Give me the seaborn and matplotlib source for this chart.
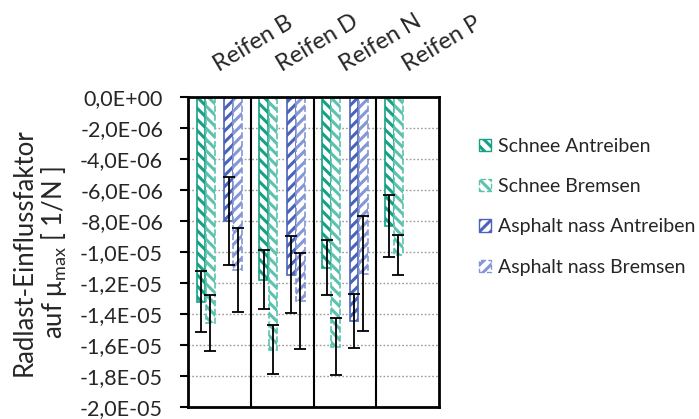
import numpy as np
import pandas as pd
import matplotlib
matplotlib.use("Agg")
import matplotlib.pyplot as plt
import seaborn as sns
from matplotlib.patches import Patch
from matplotlib.ticker import FuncFormatter, FixedLocator

# --- data -------------------------------------------------------------
tyres = ["Reifen B", "Reifen D", "Reifen N", "Reifen P"]
series = ["Schnee Antreiben", "Schnee Bremsen",
          "Asphalt nass Antreiben", "Asphalt nass Bremsen"]

schnee_antreiben = [-13.2e-6, -11.8e-6, -11.0e-6, -8.35e-6]
schnee_bremsen = [-14.6e-6, -16.3e-6, -16.1e-6, -10.2e-6]
asphalt_antreiben = [-8.0e-6, -11.45e-6, -14.45e-6, np.nan]
asphalt_bremsen = [-11.15e-6, -13.15e-6, -11.4e-6, np.nan]

err_schnee_antreiben = [1.95e-6, 1.9e-6, 1.8e-6, 2.0e-6]
err_schnee_bremsen = [1.8e-6, 1.6e-6, 1.85e-6, 1.27e-6]
err_asphalt_antreiben = [2.85e-6, 2.5e-6, 1.73e-6, np.nan]
err_asphalt_bremsen = [2.7e-6, 3.1e-6, 3.7e-6, np.nan]

y_ticks = np.arange(0, -2.01e-5, -2e-6)

# --- long table for seaborn (empty slot keeps the two groups apart) ---
gap_label = " "
hue_order = [series[0], series[1], gap_label, series[2], series[3]]
values = {series[0]: schnee_antreiben, series[1]: schnee_bremsen,
          series[2]: asphalt_antreiben, series[3]: asphalt_bremsen,
          gap_label: [np.nan] * len(tyres)}
errors = {series[0]: err_schnee_antreiben, series[1]: err_schnee_bremsen,
          series[2]: err_asphalt_antreiben, series[3]: err_asphalt_bremsen,
          gap_label: [np.nan] * len(tyres)}
rows = []
for s in hue_order:
    for t, v in zip(tyres, values[s]):
        rows.append({"Reifen": t, "Serie": s, "Wert": v})
df = pd.DataFrame(rows)

teal = "#17a086"
teal_light = "#5cc2ae"
blue = "#4a63b8"
blue_light = "#8597d4"
styles = {
    series[0]: dict(color=teal, hatch="\\\\\\", ls="-"),
    series[1]: dict(color=teal_light, hatch="\\\\\\", ls="--"),
    series[2]: dict(color=blue, hatch="///", ls="-"),
    series[3]: dict(color=blue_light, hatch="///", ls="--"),
    gap_label: dict(color="white", hatch="", ls="-"),
}

# --- figure -----------------------------------------------------------
sns.set_theme(style="white")
plt.rcParams["font.family"] = ["Lato", "DejaVu Sans"]
plt.rcParams["mathtext.fontset"] = "custom"
plt.rcParams["mathtext.rm"] = "Lato"
plt.rcParams["hatch.linewidth"] = 2.2

fig = plt.figure(figsize=(6.99, 4.19), dpi=100)
ax = fig.add_axes([0.269, 0.0286, 0.359, 0.7398])

width = 0.73
sns.barplot(data=df, x="Reifen", y="Wert", hue="Serie", order=tyres,
            hue_order=hue_order, palette=[styles[s]["color"] for s in hue_order],
            width=width, gap=0.05, errorbar=None, legend=False, ax=ax)

slot = width / len(hue_order)
for p in list(ax.patches):
    h = p.get_height()
    cx = p.get_x() + p.get_width() / 2
    i = int(round(cx))
    k = int(round((cx - i) / slot + (len(hue_order) - 1) / 2))
    s = hue_order[k]
    if s == gap_label or not np.isfinite(h):
        p.set_visible(False)
        continue
    st = styles[s]
    p.set_facecolor("white")
    p.set_edgecolor(st["color"])
    p.set_hatch(st["hatch"])
    p.set_linewidth(1.2)
    p.set_linestyle(st["ls"])
    e = errors[s][i]
    if np.isfinite(e):
        ax.errorbar(cx, h, yerr=e, fmt="none", ecolor="black",
                    elinewidth=1.3, capsize=4, capthick=1.3, zorder=5)

# axes
ax.set_xlim(-0.5, len(tyres) - 0.5)
ax.set_ylim(-2e-5, 0)
ax.yaxis.set_major_locator(FixedLocator(y_ticks))
ax.yaxis.set_major_formatter(
    FuncFormatter(lambda v, _: f"{0.0 if abs(v) < 1e-12 else v:.1E}".replace(".", ",")))
ax.yaxis.grid(True, linestyle=(0, (1.2, 1.5)), color="#9a9a9a", linewidth=1.0)
ax.set_axisbelow(True)
for b in np.arange(0.5, len(tyres) - 0.5, 1.0):
    ax.axvline(b, color="black", linewidth=1.5, zorder=6)

for sp in ax.spines.values():
    sp.set_visible(True)
    sp.set_color("black")
    sp.set_linewidth(2)

ax.tick_params(axis="y", which="major", direction="out", length=6, width=1.5,
               color="black", labelsize=15.5, pad=12, left=True)
ax.xaxis.tick_top()
ax.tick_params(axis="x", length=0, labelsize=17, pad=18)
ax.set_xlabel("")
for lab in ax.get_xticklabels():
    lab.set_rotation(31)
    lab.set_ha("left")
    lab.set_va("baseline")
    lab.set_rotation_mode("anchor")

ax.set_ylabel("Radlast-Einflussfaktor\nauf μ$_{\\mathrm{max}}$ [ 1/N ]",
              fontsize=18.5, linespacing=1.1, labelpad=8)

handles = [Patch(facecolor="white", edgecolor=styles[s]["color"],
                 hatch=styles[s]["hatch"], linestyle=styles[s]["ls"],
                 linewidth=1.0, label=s) for s in series]
fig.legend(handles=handles, loc="upper left", bbox_to_anchor=(0.674, 0.69),
           frameon=False, fontsize=14, handlelength=0.6, handleheight=0.6,
           handletextpad=0.4, labelspacing=1.2, borderaxespad=0)

fig.savefig("out.png", dpi=100)
